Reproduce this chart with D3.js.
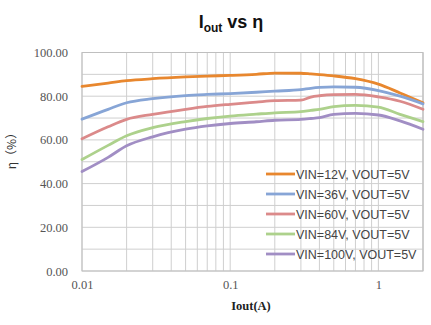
<!DOCTYPE html>
<html><head><meta charset="utf-8">
<script src="https://cdn.jsdelivr.net/npm/d3@7"></script>
<style>
html,body{margin:0;padding:0;background:#fff;}
svg{display:block;}
</style></head>
<body>
<svg id="c" width="431" height="325"></svg>
<script>
const xValues = [0.01, 0.015, 0.02, 0.03, 0.05, 0.07, 0.1, 0.15, 0.2, 0.3, 0.35, 0.4, 0.5, 0.7, 1, 1.4, 2];
const seriesNames = ["VIN=12V, VOUT=5V","VIN=36V, VOUT=5V","VIN=60V, VOUT=5V","VIN=84V, VOUT=5V","VIN=100V, VOUT=5V"];
const vin12  = [84.5, 86.0, 87.1, 88.0, 88.8, 89.2, 89.5, 90.0, 90.6, 90.5, 90.2, 89.9, 89.3, 88.0, 85.5, 81.5, 77.0];
const vin36  = [69.5, 74.0, 77.0, 78.9, 80.3, 80.8, 81.2, 81.8, 82.3, 83.0, 83.6, 84.0, 84.3, 84.1, 82.6, 80.0, 76.5];
const vin60  = [60.5, 66.0, 69.4, 71.7, 74.0, 75.3, 76.3, 77.3, 78.0, 78.2, 79.6, 80.2, 80.7, 80.8, 79.7, 77.7, 74.0];
const vin84  = [51.0, 57.5, 61.9, 65.6, 68.4, 69.8, 70.9, 71.8, 72.4, 72.9, 73.5, 74.0, 75.2, 75.8, 75.0, 71.7, 68.4];
const vin100 = [45.5, 52.0, 57.3, 61.4, 64.9, 66.4, 67.5, 68.3, 69.0, 69.4, 69.8, 70.2, 71.7, 72.1, 71.4, 68.7, 64.9];
const colors = ["#E8872E", "#87A5D6", "#DB8A8A", "#ADD18C", "#A18EC4"];
const yTicks = [0, 20, 40, 60, 80, 100];
const xTicks = [0.01, 0.1, 1];

const SERIF = "'Liberation Serif', 'DejaVu Serif', serif";
const SANS = "'Liberation Sans', Arial, sans-serif";
const allSeries = [vin12, vin36, vin60, vin84, vin100];
const svg = d3.select("#c");
const x = d3.scaleLog().domain([0.01, 2]).range([82, 423]);
const y = d3.scaleLinear().domain([0, 100]).range([271, 52.5]);

// grid
const grid = svg.append("g");
const minor = [];
for (let d = 0.01; d < 2; d *= 10) for (let k = 1; k < 10; k++) { const v = d * k; if (v <= 2.0001) minor.push(v); }
minor.push(2);
grid.selectAll("line.v").data(minor).join("line")
  .attr("x1", d => x(d)).attr("x2", d => x(d))
  .attr("y1", y(0)).attr("y2", y(100))
  .attr("stroke", "#cfcfcf").attr("stroke-width", 1);
grid.selectAll("line.h").data(d3.range(0, 101, 10)).join("line")
  .attr("x1", x(0.01)).attr("x2", x(2))
  .attr("y1", d => y(d)).attr("y2", d => y(d))
  .attr("stroke", "#cfcfcf").attr("stroke-width", 1);
grid.append("rect").attr("x", x(0.01)).attr("y", y(100))
  .attr("width", x(2) - x(0.01)).attr("height", y(0) - y(100))
  .attr("fill", "none").attr("stroke", "#bfbfbf");

// axes
const yAxis = d3.axisLeft(y).tickValues(yTicks).tickFormat(d3.format(".2f")).tickSize(0).tickPadding(14);
const gy = svg.append("g").attr("transform", `translate(${x(0.01)},0)`).call(yAxis);
gy.select(".domain").remove();
gy.selectAll("text").style("font-family", SERIF).style("font-size", "12.5px").attr("fill", "#555");

const xAxis = d3.axisBottom(x).tickValues(xTicks).tickFormat(d => String(d)).tickSize(0).tickPadding(9);
const gx = svg.append("g").attr("transform", `translate(0,${y(0)})`).call(xAxis);
gx.select(".domain").remove();
gx.selectAll("text").style("font-family", SERIF).style("font-size", "12.5px").attr("fill", "#555");

// lines
const line = d3.line().x((d, i) => x(xValues[i])).y(d => y(d)).curve(d3.curveMonotoneX);
svg.append("g").selectAll("path").data(allSeries).join("path")
  .attr("d", d => line(d)).attr("fill", "none")
  .attr("stroke", (d, i) => colors[i]).attr("stroke-width", 2.8)
  .attr("stroke-linejoin", "round").attr("stroke-linecap", "round");

// legend
const lg = svg.append("g");
seriesNames.forEach((n, i) => {
  const yy = 174 + i * 20;
  lg.append("line").attr("x1", 266).attr("x2", 295).attr("y1", yy).attr("y2", yy)
    .attr("stroke", colors[i]).attr("stroke-width", 2.8);
  lg.append("text").attr("x", 296).attr("y", yy + 4.5).text(n)
    .style("font-family", SANS).style("font-size", "12.5px").attr("fill", "#444");
});

// title
const t = svg.append("text").attr("x", 231).attr("y", 28).attr("text-anchor", "middle")
  .style("font-family", SANS).attr("font-weight", "bold").style("font-size", "18px").attr("fill", "#111");
t.append("tspan").text("I");
t.append("tspan").text("out").style("font-size", "12px").attr("dy", 4);
t.append("tspan").text(" vs η").attr("dy", -4);

// axis titles
svg.append("text").attr("x", 251).attr("y", 310).attr("text-anchor", "middle")
  .style("font-family", SERIF).attr("font-weight", "bold").style("font-size", "12.5px").attr("fill", "#222")
  .text("Iout(A)");
svg.append("text").attr("transform", "translate(16,148) rotate(-90)").attr("text-anchor", "middle")
  .style("font-family", "'Noto Sans CJK SC', sans-serif").style("font-size", "12px").attr("fill", "#333")
  .text("η（%）");
</script>
</body></html>
